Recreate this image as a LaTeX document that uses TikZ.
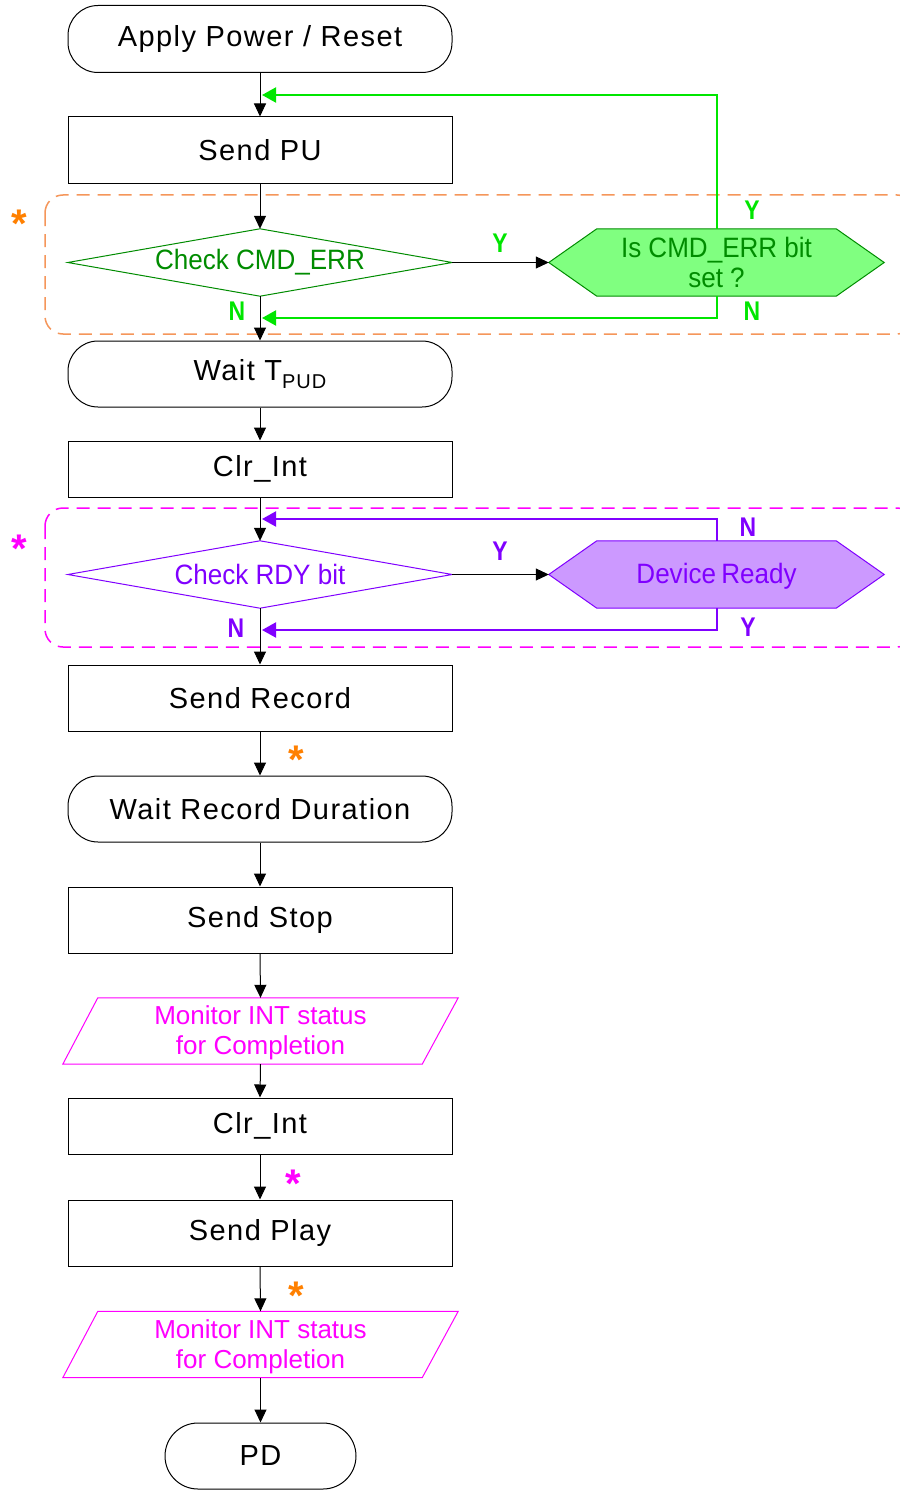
\documentclass[tikz,border=0pt]{standalone}
\usepackage{fontspec}
\setmainfont{Liberation Sans}
\newfontfamily\mainf[LetterSpace=5]{Liberation Sans}
\newfontfamily\narrowf[FakeStretch=0.93]{Liberation Sans}
\newfontfamily\labf[FakeStretch=0.85]{Liberation Sans}
\usetikzlibrary{arrows.meta,backgrounds,calc}
\definecolor{dkgreen}{RGB}{0,140,0}
\definecolor{brgreen}{RGB}{0,230,0}
\definecolor{hexgreen}{RGB}{128,255,128}
\definecolor{purp}{RGB}{128,0,255}
\definecolor{lpurp}{RGB}{204,153,255}
\definecolor{mag}{RGB}{255,0,255}
\definecolor{orng}{RGB}{255,128,0}
\definecolor{lorng}{RGB}{245,150,90}
\tikzset{
  base/.style={inner sep=0pt, minimum width=384pt, minimum height=67pt, font=\mainf\fontsize{29}{34}\selectfont},
  box/.style={base, draw=black, line width=1pt},
  rbox/.style={box, rounded corners=30pt},
  shapebox/.style={inner sep=0pt, font=\narrowf\fontsize{28}{30}\selectfont, align=center},
  parabox/.style={inner sep=0pt, minimum width=395pt, minimum height=66pt, text=mag, font=\fontsize{26}{30}\selectfont, align=center},
  arr/.style={-{Triangle[length=13pt,width=12pt]}, line width=1pt, draw=black},
  garr/.style={-{Triangle[length=14pt,width=15pt]}, line width=2pt, draw=brgreen},
  parr/.style={-{Triangle[length=14pt,width=15pt]}, line width=2pt, draw=purp},
  glab/.style={text=brgreen, font=\labf\bfseries\fontsize{27}{27}\selectfont, inner sep=0pt},
  plab/.style={text=purp, font=\labf\bfseries\fontsize{27}{27}\selectfont, inner sep=0pt},
  star/.style={font=\bfseries\fontsize{40}{40}\selectfont, inner sep=0pt, anchor=base},
}
\begin{document}
\begin{tikzpicture}[x=1pt,y=-1pt]
\useasboundingbox (0,0) rectangle (899,1490);

% dashed groups
\draw[lorng, line width=1.5pt, dash pattern=on 13pt off 8pt, rounded corners=18pt] (45,195) rectangle (915,334);
\draw[mag, line width=1.5pt, dash pattern=on 13pt off 8pt, rounded corners=18pt] (45,508) rectangle (915,647);

% main nodes
\node[rbox] (start) at (260,39) {Apply Power / Reset};
\node[box] (sendpu) at (260,150.5) {Send PU};
\node[shapebox, minimum width=384pt, minimum height=67pt, text=dkgreen] (chk1) at (260,262.5) {Check CMD\_ERR};
\node[shapebox, minimum width=335pt, minimum height=67pt, text=dkgreen] (hex1) at (716.5,262.5) {Is CMD\_ERR bit\\set ?};
\node[rbox, minimum height=66pt] (wait1) at (260,374) {Wait T\raisebox{-0.3em}{\fontsize{20}{20}\selectfont PUD}};
\node[box, minimum height=56pt] (clr1) at (260,469) {Clr\_Int};
\node[shapebox, minimum width=384pt, minimum height=67pt, text=purp] (chk2) at (260,574.5) {Check RDY bit};
\node[shapebox, minimum width=335pt, minimum height=67pt, text=purp] (hex2) at (716.5,576.5) {Device\hspace{-2pt} Ready};
\node[box, minimum height=66pt] (rec) at (260,698) {Send Record};
\node[rbox, minimum height=66pt] (waitrec) at (260,809) {Wait Record Duration};
\node[box, minimum height=66pt] (stop) at (260,920) {Send Stop};
\node[parabox] (mon1) at (260.5,1033) {Monitor INT status\\for Completion};
\node[box, minimum height=56pt] (clr2) at (260,1126) {Clr\_Int};
\node[box, minimum height=66pt] (play) at (260,1233) {Send Play};
\node[parabox] (mon2) at (260.5,1346.5) {Monitor INT status\\for Completion};
\node[box, minimum width=191pt, minimum height=66pt, rounded corners=33pt] (pd) at (260.5,1456) {PD};

% shape outlines
\begin{scope}[on background layer]
\fill[white] (0,0) rectangle (899,1490);
\draw[dkgreen, line width=1pt, fill=white] (chk1.west) -- (chk1.north) -- (chk1.east) -- (chk1.south) -- cycle;
\draw[purp, line width=1pt, fill=white] (chk2.west) -- (chk2.north) -- (chk2.east) -- (chk2.south) -- cycle;
\draw[dkgreen, line width=1pt, fill=hexgreen] (hex1.west) -- ([xshift=48pt]hex1.north west) -- ([xshift=-48pt]hex1.north east) -- (hex1.east) -- ([xshift=-48pt]hex1.south east) -- ([xshift=48pt]hex1.south west) -- cycle;
\draw[purp, line width=1pt, fill=lpurp] ([yshift=2pt]hex2.west) -- ([xshift=48pt,yshift=2pt]hex2.north west) -- ([xshift=-48pt,yshift=2pt]hex2.north east) -- ([yshift=2pt]hex2.east) -- ([xshift=-48pt,yshift=2pt]hex2.south east) -- ([xshift=48pt,yshift=2pt]hex2.south west) -- cycle;
\draw[mag, line width=1pt, fill=white] ([yshift=2pt]mon1.south west) -- ([xshift=35pt,yshift=2pt]mon1.north west) -- ([yshift=2pt]mon1.north east) -- ([xshift=-36pt,yshift=2pt]mon1.south east) -- cycle;
\draw[mag, line width=1pt, fill=white] ([yshift=2pt]mon2.south west) -- ([xshift=35pt,yshift=2pt]mon2.north west) -- ([yshift=2pt]mon2.north east) -- ([xshift=-36pt,yshift=2pt]mon2.south east) -- cycle;
\end{scope}

% coordinates for feedback entries
\coordinate (g1) at (262,95);
\coordinate (g2) at (262,318);
\coordinate (p1) at (262,519);
\coordinate (p2) at (262,630);

% main flow arrows
\draw[arr] (start.south) -- (sendpu.north);
\draw[arr] (sendpu.south) -- (chk1.north);
\draw[arr] (chk1.east) -- (hex1.west);
\draw[arr] (chk1.south) -- (wait1.north);
\draw[arr] (wait1.south) -- (clr1.north);
\draw[arr] (clr1.south) -- (chk2.north);
\draw[arr] (chk2.east) -- (chk2.east -| hex2.west);
\draw[arr] (chk2.south) -- (rec.north);
\draw[arr] (rec.south) -- (waitrec.north);
\draw[arr] (waitrec.south) -- (stop.north);
\draw[arr] (stop.south) -- ([yshift=2pt]mon1.north);
\draw[arr] ([yshift=2pt]mon1.south) -- (clr2.north);
\draw[arr] (clr2.south) -- (play.north);
\draw[arr] (play.south) -- ([yshift=2pt]mon2.north);
\draw[arr] ([yshift=2pt]mon2.south) -- (pd.north);

% feedback loops
\draw[garr] (hex1.north) |- (g1);
\draw[garr] (hex1.south) |- (g2);
\draw[parr] ([yshift=2pt]hex2.north) |- (p1);
\draw[parr] ([yshift=2pt]hex2.south) |- (p2);

% labels
\node[glab] (ly1) at (500,243) {Y};
\node[glab] (ly2) at (752,210) {Y};
\node[glab] (ln1) at (752,311) {N};
\node[glab] (ln2) at (237,311) {N};
\node[plab] (py1) at (500,551) {Y};
\node[plab] (pn1) at (748,527) {N};
\node[plab] (py2) at (748,627) {Y};
\node[plab] (pn2) at (236,628) {N};

% asterisks
\node[star, text=orng] (s1) at (19.5,237) {*};
\node[star, text=mag] (s2) at (19.5,562) {*};
\node[star, text=orng] (s3) at (296,773) {*};
\node[star, text=mag] (s4) at (293,1197) {*};
\node[star, text=orng] (s5) at (296,1309) {*};
\end{tikzpicture}
\end{document}
